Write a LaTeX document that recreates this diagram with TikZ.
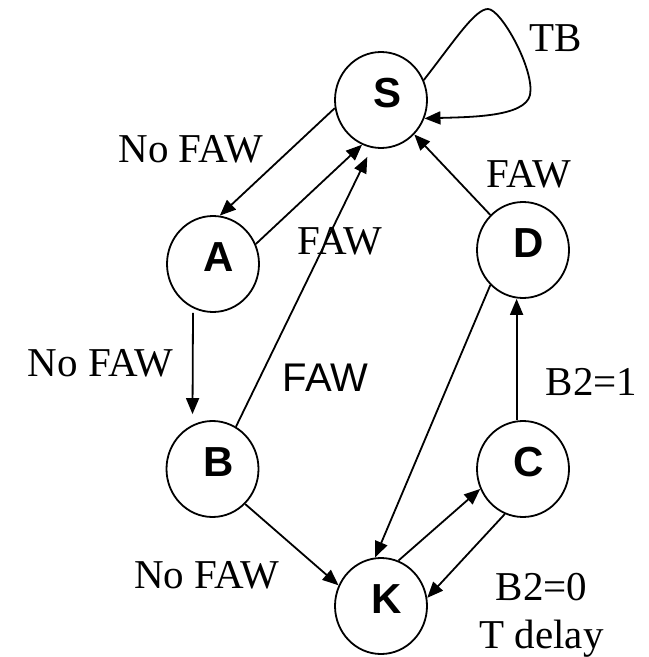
\documentclass[tikz,border=0pt]{standalone}
\usepackage{fontspec}
\setmainfont{Liberation Serif}
\newfontfamily\arial{Liberation Sans}
\usetikzlibrary{shapes.geometric,arrows.meta}

\tikzset{
	state/.style={draw, ellipse, line width=0.9pt, minimum width=46pt, minimum height=48pt, inner sep=0pt},
	letter/.style={font=\arial\bfseries\fontsize{21}{21}\selectfont, xshift=3pt, yshift=3.5pt},
	arr/.style={line width=0.9pt, -{Triangle[length=8pt,width=6.5pt]}},
	lbl/.style={anchor=base, inner sep=0pt, font=\fontsize{20.5}{20.5}\selectfont},
	lblsans/.style={anchor=base, inner sep=0pt, font=\arial\fontsize{20}{20}\selectfont},
}

\begin{document}
\begin{tikzpicture}[x=0.5pt, y=-0.5pt]
		\useasboundingbox (0,0) rectangle (648,657);
		
		% states
		\node[state, label={[letter]center:S}] (S) at (381,100) {};
		\node[state, label={[letter]center:A}] (A) at (213,264) {};
		\node[state, label={[letter]center:D}] (D) at (523,250) {};
		\node[state, label={[letter]center:B}] (B) at (212.5,469) {};
		\node[state, label={[letter]center:C}] (C) at (523,469) {};
		\node[state, label={[letter]center:K}] (K) at (381,606) {};
		
		% transitions
		\draw[arr] (S.190) -- (A.82);
		\draw[arr] (A.25) -- (S.247);
		\draw[arr, shorten >=5pt] (B.61) -- (S.259);
		\draw[arr] (D.133) -- (S.314);
		\draw[arr] ([xshift=-10pt]A.south) -- ([xshift=-10pt,yshift=3pt]B.north);
		\draw[arr] (B.313) -- (K.154);
		\draw[arr] (D.227) -- (K.97);
		\draw[arr] ([xshift=-3.2pt]C.north) -- ([xshift=-3.2pt]D.south);
		\draw[arr] (K.69) -- (C.205);
		\draw[arr] (C.248) -- (K.10);
		
		% self loop on S
		\draw[arr] (S.25) .. controls (455,40) and (475,9) .. (488,9)
		.. controls (501,9) and (535,70) .. (530,95)
		.. controls (525,117) and (470,117) .. (S.-23);
		
		% labels
		\node[lbl] (tb) at (556,51.7) {TB};
		\node[lbl] (nofaw1) at (191,163) {No FAW};
		\node[lbl] (faw1) at (340,255) {FAW};
		\node[lbl] (faw2) at (529,188) {FAW};
		\node[lbl] (nofaw2) at (100.5,376) {No FAW};
		\node[lblsans] (faw3) at (325.5,391.7) {FAW};
		\node[lbl] (b21) at (591.7,395) {B2=1};
		\node[lbl] (nofaw3) at (206.7,588) {No FAW};
		\node[lbl] (b20) at (541.5,600) {B2=0};
		\node[lbl] (tdelay) at (541.5,648) {T delay};
		
	\end{tikzpicture}
\end{document}
